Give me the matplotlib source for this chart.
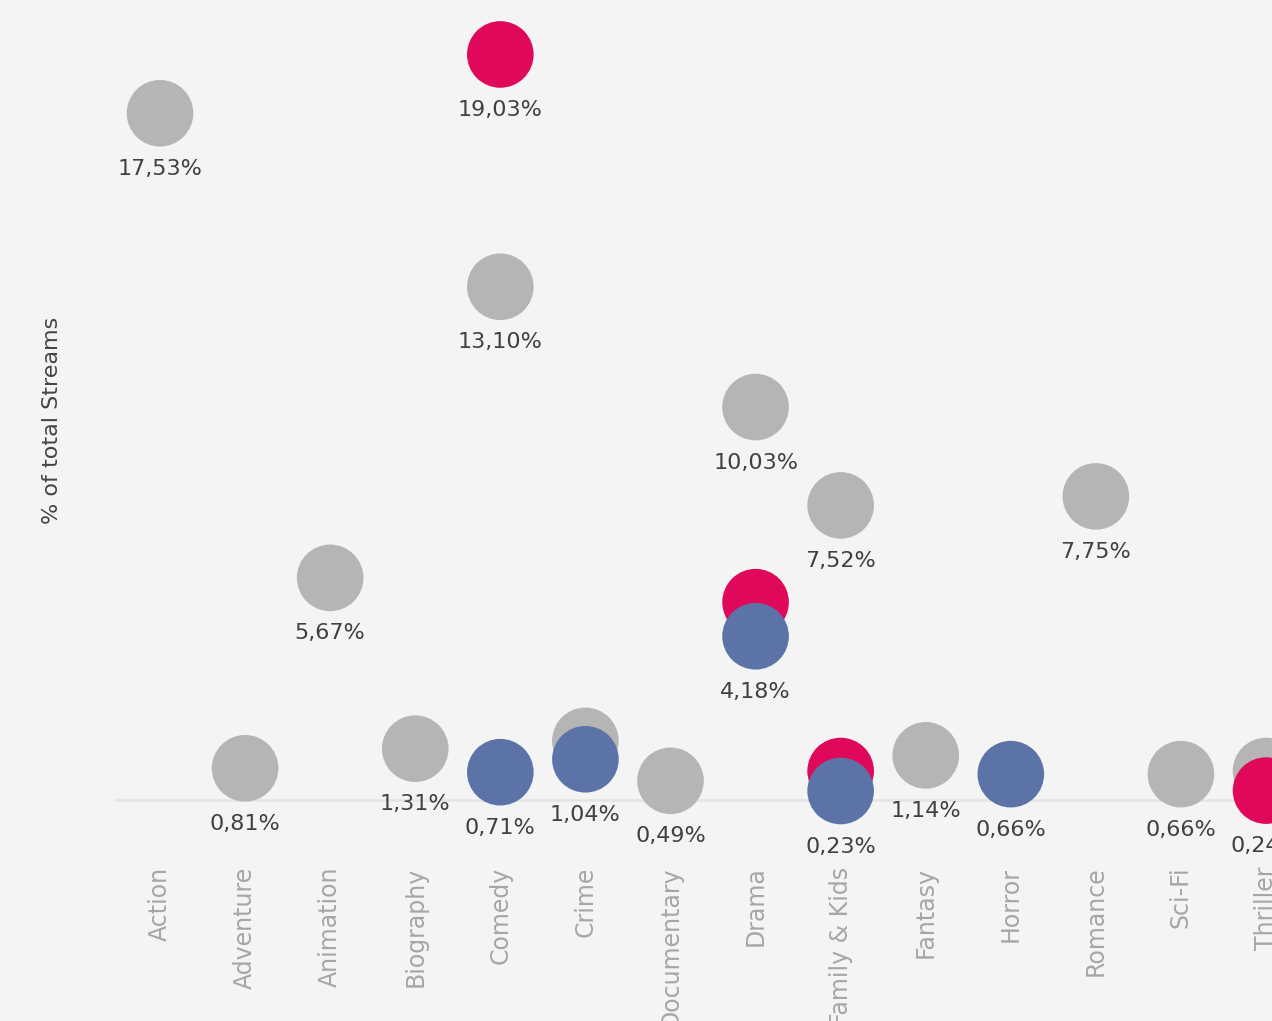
"""Dot plot: % of total Streams por género (estilo Tableau)."""

import matplotlib.pyplot as plt

# Dados (None = sem ponto)
generos = ["Action", "Adventure", "Animation", "Biography", "Comedy", "Crime",
           "Documentary", "Drama", "Family & Kids", "Fantasy", "Horror",
           "Romance", "Sci-Fi", "Thriller"]
cinza = [17.53, 0.81, 5.67, 1.31, 13.10, 1.51, 0.49, 10.03, 7.52, 1.14,
         None, 7.75, 0.66, 0.74]
rosa = [None, None, None, None, 19.03, None, None, 5.05, 0.74, None,
        None, None, None, 0.24]
azul = [None, None, None, None, 0.71, 1.04, None, 4.18, 0.23, None,
        0.66, None, None, None]

# Quais pontos têm rótulo visível
rot_cinza = [1, 1, 1, 1, 1, 0, 1, 1, 1, 1, 0, 1, 1, 0]
rot_rosa = [0, 0, 0, 0, 1, 0, 0, 0, 0, 0, 0, 0, 0, 1]
rot_azul = [0, 0, 0, 0, 1, 1, 0, 1, 1, 0, 1, 0, 0, 0]

BG = "#f4f4f4"
series = [(cinza, rot_cinza, "#b5b5b5"),
          (rosa, rot_rosa, "#e0085a"),
          (azul, rot_azul, "#5b73a6")]

W, H = 1272, 1021
fig = plt.figure(figsize=(W / 100, H / 100), dpi=100, facecolor=BG)
ax = fig.add_axes([115 / W, (H - 850) / H, (W - 115) / W, 850 / H])
ax.set_facecolor(BG)

ax.set_xlim(-0.529, 13.07)
ax.set_ylim(-1.276, 20.42)

ax.axhline(0, color="#e6e6e6", lw=2, zorder=0)

for valores, rotulos, cor in series:
    xs = [i for i, v in enumerate(valores) if v is not None]
    ys = [v for v in valores if v is not None]
    ax.scatter(xs, ys, s=2300, color=cor, edgecolors="none", zorder=2,
               clip_on=False)
    for i, v in enumerate(valores):
        if v is not None and rotulos[i]:
            ax.annotate(f"{v:.2f}%".replace(".", ","), (i, v),
                        xytext=(0, -40), textcoords="offset points",
                        ha="center", va="center", fontsize=16,
                        color="#404040", zorder=3, annotation_clip=False)

ax.set_xticks(range(len(generos)))
ax.set_xticklabels(generos, rotation=90, va="top", ha="center",
                   fontsize=17, color="#a6a6a6")
ax.tick_params(axis="x", length=0, pad=12)
ax.set_yticks([])
for sp in ax.spines.values():
    sp.set_visible(False)

fig.text(52 / W, (H - 420) / H, "% of total Streams", rotation=90,
         ha="center", va="center", fontsize=16, color="#444444")

fig.savefig("out.png", dpi=100, facecolor=BG)
